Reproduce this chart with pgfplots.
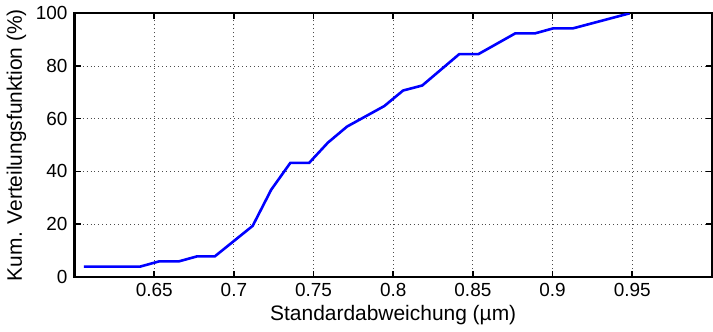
\documentclass[border=0pt]{standalone}
\usepackage{fontspec}
\setmainfont{Liberation Sans}
\usepackage{pgfplots}
\pgfplotsset{compat=1.18}
\begin{document}
\begin{tikzpicture}
\begin{axis}[
  scale only axis,
  width=319.5pt, height=132pt,
  xmin=0.6, xmax=1.0, ymin=0, ymax=100,
  xtick={0.65,0.7,0.75,0.8,0.85,0.9,0.95},
  ytick={0,20,40,60,80,100},
  tick align=inside,
  major tick length=3pt,
  tick style={black, line width=0.8pt},
  axis line style={black, line width=1.1pt},
  grid=major,
  major grid style={black!70, line width=0.4pt, dash pattern=on 0.5pt off 1.5pt},
  /pgf/number format/assume math mode=true,
  xticklabel style={/pgf/number format/fixed, /pgf/number format/precision=2},
  tick label style={font=\fontsize{9.5}{11}\selectfont},
  label style={font=\fontsize{10.5}{12}\selectfont},
  xlabel={Standardabweichung (µm)},
  ylabel={Kum. Verteilungsfunktion (\%)},
  xlabel style={yshift=3pt},
  ylabel style={yshift=-2pt},
]
\addplot[blue, line width=1.3pt] coordinates {
(0.6058,3.8) (0.641,3.8) (0.653,5.8) (0.6654,5.8) (0.6768,7.7) (0.688,7.7)
(0.7118,19.3) (0.7234,33.0) (0.7354,43.2) (0.7472,43.2) (0.759,50.9)
(0.771,57.0) (0.7944,64.8) (0.8062,70.7) (0.8182,72.6) (0.8414,84.5)
(0.8534,84.5) (0.8766,92.4) (0.889,92.4) (0.9004,94.3) (0.9128,94.3)
(0.9483,100)
};
\end{axis}
\end{tikzpicture}
\end{document}
